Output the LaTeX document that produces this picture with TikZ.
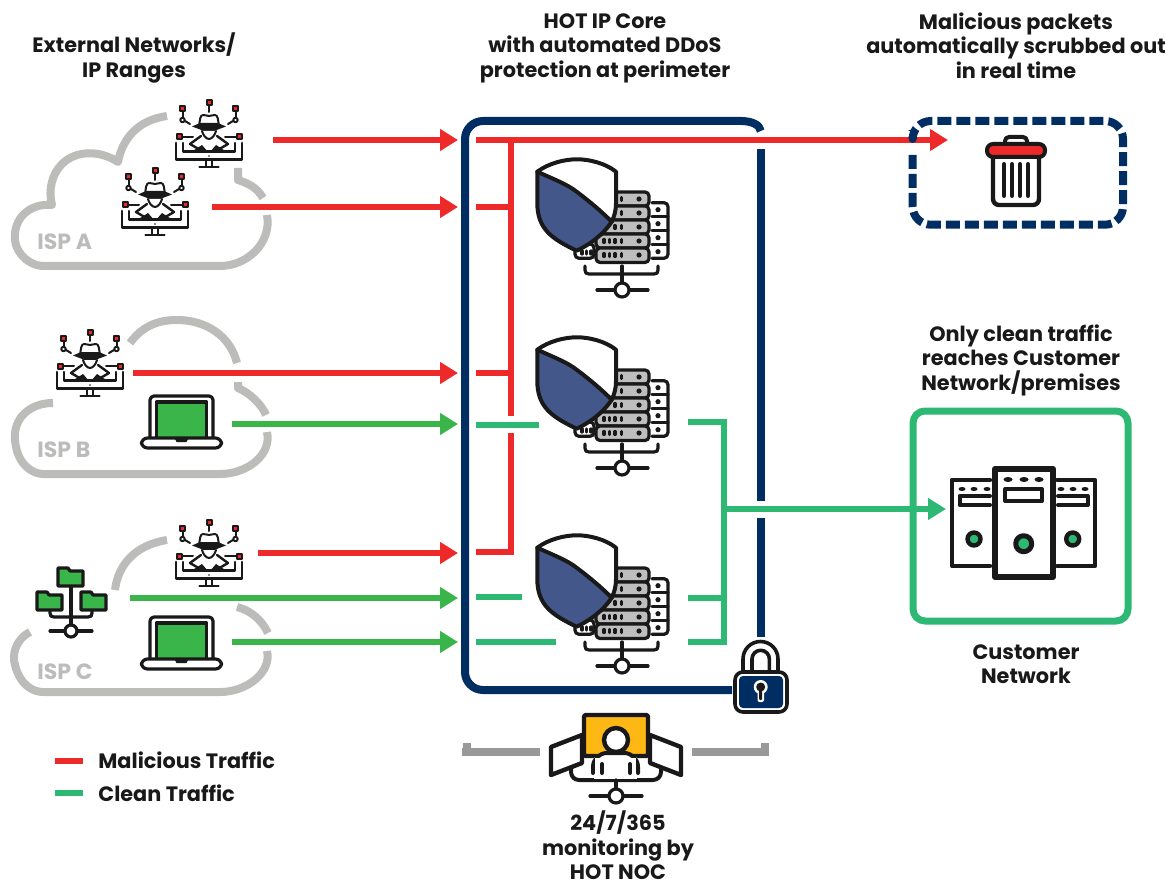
\documentclass[tikz,border=0pt]{standalone}
\usepackage{fontspec}
\setmainfont{Poppins}
\usepackage{tikz}
\usetikzlibrary{arrows.meta}
\definecolor{navyline}{rgb}{0.,0.176,0.384}
\definecolor{redflow}{rgb}{0.933,0.161,0.161}
\definecolor{greenin}{rgb}{0.224,0.71,0.29}
\definecolor{greenout}{rgb}{0.176,0.722,0.451}
\definecolor{cloudgray}{rgb}{0.737,0.737,0.729}
\definecolor{barsgray}{rgb}{0.6,0.6,0.6}
\definecolor{rackgray}{rgb}{0.745,0.745,0.745}
\definecolor{shieldblue}{rgb}{0.267,0.341,0.541}
\definecolor{screenorange}{rgb}{0.992,0.722,0.075}
\definecolor{iconblack}{rgb}{0.1,0.1,0.1}
\tikzset{
  redarrow/.style={line width=3pt,color=redflow},
  greenarrow/.style={line width=3pt,color=greenin},
  greenpipe/.style={line width=3pt,color=greenout},
  cloudline/.style={line width=4pt,color=cloudgray},
  navybox/.style={line width=4pt,color=navyline},
  iconline/.style={line width=1.6pt,color=iconblack,line cap=round,line join=round},
  thinline/.style={line width=1pt,color=iconblack,line cap=round,line join=round},
  heading/.style={font=\bfseries\fontsize{10.4}{12.25}\selectfont,text=iconblack,align=center,inner sep=0pt},
  isplabel/.style={font=\bfseries\fontsize{11}{13}\selectfont,text=cloudgray,anchor=west,inner sep=0pt},
  hacker/.pic={
    \draw[thinline] (0,-34)-- (0,-28);
    \draw[thinline] (-26.5,-28)-- (-26.5,-22);
    \draw[thinline] (26.5,-28)-- (26.5,-22);
    \draw[thinline] (-24,-19)-- (-19,-16);
    \draw[thinline] (24,-19)-- (19,-16);
    \draw[thinline] (-27,-3)-- (-16,-3);
    \draw[thinline] (27,-3)-- (16,-3);
    \draw[thinline,fill=white] (-26.5,-20) circle (2.2);
    \draw[thinline,fill=white] (26.5,-20) circle (2.2);
    \draw[thinline,fill=redflow] (-2.5,-39.5) rectangle (2.5,-34.5);
    \draw[thinline,fill=redflow] (-29,-33.5) rectangle (-24,-28.5);
    \draw[thinline,fill=redflow] (24,-33.5) rectangle (29,-28.5);
    \draw[thinline,fill=redflow] (-32.5,-5.5) rectangle (-27.5,-0.5);
    \draw[thinline,fill=redflow] (27.5,-5.5) rectangle (32.5,-0.5);
    \draw[thinline,fill=white] (-10,-14) .. controls (-9,-20) and (-9,-25) .. (-6,-25) .. controls (-3,-25) and (-2,-24) .. (0,-24) .. controls (2,-24) and (3,-25) .. (6,-25) .. controls (9,-25) and (9,-20) .. (10,-14) -- cycle;
    \fill[iconblack] (-17,-13.5) -- (-9,-17) -- (9,-17) -- (17,-13.5) -- (9,-10.5) .. controls (4,-7) and (-4,-7) .. (-9,-10.5) -- cycle;
    \draw[thinline,fill=white] (-7,-9) .. controls (-6,-5) and (-3,-1) .. (0,-1) .. controls (3,-1) and (6,-5) .. (7,-9);
    \draw[iconline,line width=1.2pt] (-8,-4) -- (-19,4) -- (-7,11);
    \draw[iconline,line width=1.2pt] (8,-4) -- (19,4) -- (7,11);
    \fill[iconblack] (-18,12) -- (-7,5) -- (-1,12) -- cycle;
    \fill[iconblack] (18,12) -- (7,5) -- (1,12) -- cycle;
    \draw[iconline,line width=1.2pt] (-26,3)-- (-26,11.5) -- (26,11.5) -- (26,3);
    \draw[iconline,line width=1.4pt] (-33,3)-- (-33,19.5) -- (33,19.5) -- (33,3);
    \draw[thinline] (-3,20)-- (-3,27);
    \draw[thinline] (3,20)-- (3,27);
    \draw[iconline,line width=1.2pt] (-9.5,27)-- (9.5,27);
    \fill[iconblack] (0,16) circle (0.8);
  },
  shieldrack/.pic={
    \draw[iconline,fill=white,rounded corners=2pt] (75,43.7)-- (91,43.7)-- (91,99.3)-- (75,99.3);
    \draw[iconline] (75,57.7)-- (91,57.7);
    \draw[iconline] (75,71.7)-- (91,71.7);
    \draw[iconline] (75,85.7)-- (91,85.7);
    \fill[iconblack] (81,50.7) circle (2.6);
    \fill[iconblack] (81,64.7) circle (2.6);
    \fill[iconblack] (81,78.7) circle (2.6);
    \fill[iconblack] (81,92.7) circle (2.6);
    \draw[iconline,fill=white,rounded corners=2pt] (-2,85)-- (-2,99.3)-- (17,99.3)-- (17,85)-- cycle;
    \draw[iconline] (5,92)-- (5,95);
    \draw[iconline] (9.5,92)-- (9.5,95);
    \draw[iconline] (14,92)-- (14,95);
    \draw[iconline,fill=rackgray,rounded corners=2pt] (19,33)-- (72,33)-- (72,47)-- (19,47)-- cycle;
    \draw[iconline,fill=rackgray,rounded corners=2pt] (19,47)-- (72,47)-- (72,61)-- (19,61)-- cycle;
    \draw[iconline,fill=rackgray,rounded corners=2pt] (19,61)-- (72,61)-- (72,75)-- (19,75)-- cycle;
    \draw[iconline,fill=rackgray,rounded corners=2pt] (19,75)-- (72,75)-- (72,89)-- (19,89)-- cycle;
    \draw[iconline,fill=rackgray,rounded corners=2pt] (19,89)-- (72,89)-- (72,103.5)-- (19,103.5)-- cycle;
    \fill[iconblack] (62,40) circle (2.6);
    \fill[iconblack] (62,54) circle (2.6);
    \fill[iconblack] (62,68) circle (2.6);
    \fill[iconblack] (62,82) circle (2.6);
    \fill[iconblack] (62,96) circle (2.6);
    \draw[iconline] (44.7,38.5)-- (44.7,41.5);
    \draw[iconline] (44.7,52.5)-- (44.7,55.5);
    \draw[iconline] (44.7,66.5)-- (44.7,69.5);
    \draw[iconline] (38,66.5)-- (38,69.5);
    \draw[iconline] (44.7,80.5)-- (44.7,83.5);
    \draw[iconline] (38,80.5)-- (38,83.5);
    \draw[iconline] (32.7,80.5)-- (32.7,83.5);
    \draw[iconline] (27,80.5)-- (27,83.5);
    \draw[iconline] (44.7,94.5)-- (44.7,97.5);
    \draw[iconline] (38,94.5)-- (38,97.5);
    \draw[iconline] (32.7,94.5)-- (32.7,97.5);
    \draw[iconline] (27,94.5)-- (27,97.5);
    \fill[white] (-39.7,12.7) .. controls (-28,4) and (-12,0.3) .. (0,0.3) .. controls (12,0.3) and (28,4) .. (39,12.7) -- (39,44) .. controls (39,52) and (37,58) .. (34.7,62.7) .. controls (26,76) and (12,86) .. (-0.3,91.7) .. controls (-25,80) and (-39.7,70) .. (-39.7,44) -- cycle;
    \fill[shieldblue] (-39.7,12.7) .. controls (-24,20) and (-10,25) .. (0,33) .. controls (12,42) and (24,52) .. (34.7,62.7) .. controls (26,76) and (12,86) .. (-0.3,91.7) .. controls (-25,80) and (-39.7,70) .. (-39.7,44) -- cycle;
    \draw[iconline,line width=2pt] (-39.7,12.7) .. controls (-28,4) and (-12,0.3) .. (0,0.3) .. controls (12,0.3) and (28,4) .. (39,12.7) -- (39,44) .. controls (39,52) and (37,58) .. (34.7,62.7) .. controls (26,76) and (12,86) .. (-0.3,91.7) .. controls (-25,80) and (-39.7,70) .. (-39.7,44) -- cycle;
    \draw[iconline,line width=2pt] (-39.7,12.7) .. controls (-24,20) and (-10,25) .. (0,33) .. controls (12,42) and (24,52) .. (34.7,62.7);
    \draw[iconline] (8,107)-- (8,111) .. controls (8,114) and (9,115) .. (12,115) -- (77,115) .. controls (80,115) and (81,114) .. (81,111) -- (81,107);
    \draw[iconline] (45,107)-- (45,124);
    \draw[iconline] (20,131)-- (71,131);
    \draw[iconline,fill=white] (45,131) circle (7);
  },
  laptop/.pic={
    \draw[iconline,fill=white,rounded corners=2pt] (-31.5,42)-- (-31.5,0)-- (31.5,0)-- (31.5,42);
    \draw[iconline,fill=greenin] (-25,42)-- (-25,6)-- (25,6)-- (25,42);
    \draw[iconline,fill=white,rounded corners=3pt] (-40,42)-- (40,42)-- (40,52)-- (-40,52)-- cycle;
    \fill[iconblack] (-7,42) -- (7,42) -- (5,46) -- (-5,46) -- cycle;
  }
}
\begin{document}
\begin{tikzpicture}[line join=round,>={Triangle[length=9pt,width=10.5pt]},x=0.5pt,y=-0.5pt]
\useasboundingbox (0,0) rectangle (1172,882);
% clouds
\draw [cloudline] (167,116) .. controls (137,120) and (122,140) .. (118,162) .. controls (100,150) and (76,150) .. (62,164) .. controls (52,174) and (48,190) .. (52,205) .. controls (30,203) and (13,218) .. (15,240) .. controls (17,257) and (33,266) .. (43,266) -- (220,266) .. controls (247,266) and (272,243) .. (267,215);
\draw [cloudline] (263,198) .. controls (257,187) and (247,183) .. (238,180) -- (238,168);
\draw [cloudline] (130,343) .. controls (145,322) and (165,320) .. (177,320) .. controls (205,320) and (230,335) .. (237,363);
\draw [cloudline] (238,382) -- (238,388) .. controls (250,393) and (262,405) .. (266,415);
\draw [cloudline] (53,403) .. controls (30,403) and (13,418) .. (15,440) .. controls (17,465) and (33,474) .. (43,474) -- (220,474) .. controls (247,474) and (272,455) .. (267,432);
\draw [cloudline] (167,540) .. controls (135,545) and (118,565) .. (115,590);
\draw [cloudline] (30,632) .. controls (15,640) and (12,655) .. (15,665) .. controls (20,685) and (33,692) .. (43,692) -- (220,692) .. controls (247,692) and (272,672) .. (267,651);
\draw [cloudline] (237,607) .. controls (250,610) and (262,620) .. (268,633);
\node [isplabel] (ispA) at (37,242) {ISP A};
\node [isplabel] (ispB) at (37,450) {ISP B};
\node [isplabel] (ispC) at (37,672) {ISP C};
% sources
\pic at (209,140) {hacker};
\pic at (155,208) {hacker};
\pic at (90,369) {hacker};
\pic at (209,559) {hacker};
\pic at (181.5,396) {laptop};
\pic at (181.5,617) {laptop};
\draw [iconline] (71,586)-- (71,625);
\draw [iconline] (50,610)-- (50,613) .. controls (50,616) and (51,617) .. (54,617) -- (88,617) .. controls (91,617) and (92,616) .. (92,613) -- (92,610);
\draw [iconline] (50,631)-- (92,631);
\draw [iconline,fill=white] (71,631) circle (6);
\draw [iconline,fill=greenin] (58,568)-- (68,568)-- (70,571)-- (83,571)-- (83,586)-- (58,586)-- cycle;
\draw [iconline,fill=greenin] (37,592)-- (47,592)-- (49,595)-- (62,595)-- (62,610)-- (37,610)-- cycle;
\draw [iconline,fill=greenin] (81,592)-- (91,592)-- (93,595)-- (106,595)-- (106,610)-- (81,610)-- cycle;
% core
\draw [navybox,rounded corners=9pt] (732,690)-- (465,690)-- (465,121)-- (742,121);
\draw [navybox] (741,121) .. controls (752,121) and (760,125) .. (760.7,131);
\draw [navybox] (760.7,149)-- (760.7,501);
\draw [navybox] (760.7,518)-- (760.7,637);
\pic at (577,159) {shieldrack};
\pic at (577,337) {shieldrack};
\pic at (577,535) {shieldrack};
\coordinate (a1s) at (273,140);
\coordinate (a1e) at (458,140);
\coordinate (a2s) at (212,207);
\coordinate (a2e) at (458,207);
\coordinate (b1s) at (133,373);
\coordinate (b1e) at (458,373);
\coordinate (b2s) at (232,424);
\coordinate (b2e) at (458,424);
\coordinate (c1s) at (258,553);
\coordinate (c1e) at (458,553);
\coordinate (c2s) at (130,598);
\coordinate (c2e) at (458,598);
\coordinate (c3s) at (232,642);
\coordinate (c3e) at (458,642);
\coordinate (scrubs) at (476,140);
\coordinate (scrube) at (948,140);
\coordinate (bustop) at (510.5,140);
\coordinate (busgap1) at (510.5,416);
\coordinate (busgap2) at (510.5,433);
\coordinate (buscrn) at (510.5,552);
\coordinate (stuba) at (476,207);
\coordinate (stubabus) at (510.5,207);
\coordinate (stubb) at (476,373);
\coordinate (stubbbus) at (510.5,373);
\coordinate (stubc) at (476,552);
\coordinate (cleanb) at (476,425);
\coordinate (cleanbe) at (539,425);
\coordinate (cleanc) at (476,597);
\coordinate (cleance) at (522,597);
\coordinate (cleand) at (476,642);
\coordinate (cleande) at (556,642);
\coordinate (outa) at (688,422);
\coordinate (outacr) at (724,422);
\coordinate (outb) at (688,598);
\coordinate (outbus) at (724,598);
\coordinate (outc) at (688,642);
\coordinate (outccr) at (724,642);
\coordinate (outm) at (724,509);
\coordinate (oute) at (946,509);
\draw [->,redarrow] (a1s)-- (a1e);
\draw [->,redarrow] (a2s)-- (a2e);
\draw [->,redarrow] (b1s)-- (b1e);
\draw [->,greenarrow] (b2s)-- (b2e);
\draw [->,redarrow] (c1s)-- (c1e);
\draw [->,greenarrow] (c2s)-- (c2e);
\draw [->,greenarrow] (c3s)-- (c3e);
\draw [redarrow] (bustop)-- (busgap1);
\draw [redarrow,line join=miter] (busgap2)-- (buscrn)-- (stubc);
\draw [redarrow] (stuba)-- (stubabus);
\draw [redarrow] (stubb)-- (stubbbus);
\draw [->,redarrow] (scrubs)-- (scrube);
\draw [greenpipe] (cleanb)-- (cleanbe);
\draw [greenpipe] (cleanc)-- (cleance);
\draw [greenpipe] (cleand)-- (cleande);
\draw [greenpipe,line join=miter] (outa)-- (outacr)-- (outccr)-- (outc);
\draw [greenpipe] (outb)-- (outbus);
\draw [->,greenpipe] (outm)-- (oute);
% lock
\draw [iconline,line width=1.8pt] (743,672)-- (743,659) arc (180:360:17.5)-- (778,672);
\draw [iconline,line width=1.8pt] (752,672)-- (752,659) arc (180:360:8.7)-- (769.4,672);
\draw [iconline,line width=1.8pt,fill=white,rounded corners=4pt] (735,672) rectangle (787,712);
\fill [navyline,rounded corners=2pt] (739,676) rectangle (783,708);
\fill [white] (760.7,687) circle (7);
\fill [white,rounded corners=1pt] (757.5,688) rectangle (764,702);
\fill [iconblack] (760.7,687) circle (4.5);
\fill [iconblack,rounded corners=0.5pt] (759.2,688) rectangle (762.2,700);
% trash and scrubbing box
\draw [navybox,dash pattern=on 7pt off 2.5pt,rounded corners=9pt] (912.7,155)-- (912.7,224.7)-- (1123,224.7)-- (1123,121)-- (912.7,121)-- (912.7,130);
\draw [iconline,line width=2pt,rounded corners=2pt] (1005,144)-- (1005,137)-- (1027,137)-- (1027,144);
\draw [iconline,line width=2.2pt,rounded corners=3pt] (993,158)-- (993,205)-- (1039,205)-- (1039,158);
\draw [iconline,line width=2pt,fill=redflow,rounded corners=3pt] (987,144) rectangle (1045,157);
\draw [iconline,line width=2pt] (1004,164)-- (1004,196);
\draw [iconline,line width=2pt] (1012,164)-- (1012,196);
\draw [iconline,line width=2pt] (1020,164)-- (1020,196);
\draw [iconline,line width=2pt] (1028,164)-- (1028,196);
% customer network
\draw [line width=3.5pt,color=greenout,rounded corners=6pt] (913,411) rectangle (1128,621);
\draw [iconline,line width=2.2pt] (990,480)-- (952,480)-- (952,566)-- (990,566);
\draw [iconline,line width=2.2pt] (1057,480)-- (1095,480)-- (1095,566)-- (1057,566);
\draw [iconline,line width=3pt] (995,469) rectangle (1053,577);
\draw [iconline,line width=2pt] (1005,489) rectangle (1042,501);
\draw [iconline,line width=2pt] (990,496)-- (959.5,496)-- (959.5,505)-- (990,505);
\draw [iconline,line width=2pt] (1058,496)-- (1087.5,496)-- (1087.5,505)-- (1058,505);
\fill [iconblack] (1008,479.5) ellipse (4.5 and 2.5);
\fill [iconblack] (1024,479.5) ellipse (4.5 and 2.5);
\fill [iconblack] (1039,479.5) ellipse (4.5 and 2.5);
\fill [iconblack] (962,489) ellipse (3.5 and 2);
\fill [iconblack] (974,489) ellipse (3.5 and 2);
\fill [iconblack] (987,489) ellipse (3.5 and 2);
\fill [iconblack] (1061,489) ellipse (3.5 and 2);
\fill [iconblack] (1073,489) ellipse (3.5 and 2);
\fill [iconblack] (1085,489) ellipse (3.5 and 2);
\draw [iconline,line width=2.5pt,fill=greenout] (1023.7,543.7) circle (8);
\draw [iconline,line width=2.2pt,fill=greenout] (974,539) circle (6.5);
\draw [iconline,line width=2.2pt,fill=greenout] (1072.7,539) circle (6.5);
% noc
\draw [line width=4pt,color=barsgray] (466.5,743)-- (466.5,752);
\draw [line width=4pt,color=barsgray] (462,752)-- (540,752);
\draw [line width=4pt,color=barsgray] (764.5,743)-- (764.5,752);
\draw [line width=4pt,color=barsgray] (692,752)-- (769,752);
\draw [iconline,line width=2pt,fill=white,rounded corners=4pt] (571,762)-- (571,780)-- (661,780)-- (661,762);
\draw [iconline,line width=2.2pt,fill=white] (551,747)-- (582,735)-- (582,763)-- (551,775)-- cycle;
\draw [iconline,line width=2.2pt,fill=white] (681,747)-- (650,735)-- (650,763)-- (681,775)-- cycle;
\draw [iconline,line width=2.2pt,fill=screenorange,rounded corners=1pt] (584,715) rectangle (648,756);
\fill [white] (594,757) rectangle (637,779);
\draw [iconline,line width=2pt,fill=white,rounded corners=7pt] (593,773)-- (593,753)-- (638,753)-- (638,773);
\fill [white] (595,758) rectangle (636,779);
\draw [iconline,line width=2pt] (602,764)-- (602,773);
\draw [iconline,line width=2pt] (630,764)-- (630,773);
\draw [iconline,line width=2.2pt,fill=white] (616,740) circle (12);
\draw [iconline] (616,780)-- (616,790);
\draw [iconline] (590,796)-- (642,796);
\draw [iconline,fill=white] (616,796) circle (7);
% legend
\coordinate (legrs) at (55,761);
\coordinate (legre) at (83,761);
\coordinate (leggs) at (55,793);
\coordinate (legge) at (83,793);
\draw [redarrow] (legrs)-- (legre);
\draw [greenpipe] (leggs)-- (legge);
\node [heading,anchor=west] (legmal) at (98,760) {Malicious Traffic};
\node [heading,anchor=west] (legclean) at (98,793) {Clean Traffic};
% headings
\node [heading] (ttlext) at (134,58) {External Networks/\\IP Ranges};
\node [heading] (ttlcore) at (605,48) {HOT IP Core\\with automated DDoS\\protection at perimeter};
\node [heading] (ttlscrub) at (1016,45.5) {Malicious packets\\automatically scrubbed out\\in real time};
\node [heading] (ttlclean) at (1021,360) {Only clean traffic\\reaches Customer\\Network/premises};
\node [heading] (ttlcust) at (1026,664) {Customer\\Network};
\node [heading,anchor=south,text depth=0pt] (ttlnoc) at (618,880) {24/7/365\\monitoring by\\HOT NOC};
\end{tikzpicture}
\end{document}
